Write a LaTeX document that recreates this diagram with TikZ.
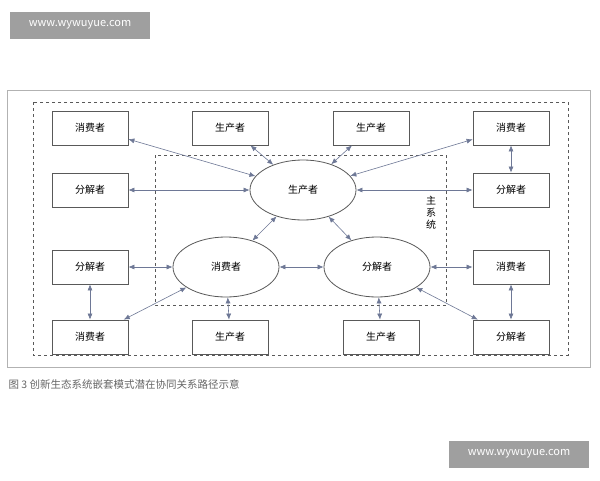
\documentclass[tikz,border=0pt]{standalone}
\usepackage{fontspec}
\setmainfont{Noto Sans CJK SC}
\usetikzlibrary{arrows.meta}
\definecolor{linec}{RGB}{110,120,150}
\tikzset{
	box/.style = {draw, thick, gray!70!black, text=black, minimum width=76pt, minimum height=34pt, font=\fontsize{10}{12}\selectfont},
	eli/.style = {draw, thick, gray!70!black, text=black, ellipse, minimum width=106pt, minimum height=60pt, font=\fontsize{10}{12}\selectfont},
	link/.style = {{Latex[length=6pt,width=5pt]}-{Latex[length=6pt,width=5pt]}, linec, semithick},
	wmark/.style = {fill=gray!75, text=white, font=\fontsize{11}{13}\selectfont, minimum width=140pt, minimum height=27pt}
}
\usetikzlibrary{shapes.geometric}
\begin{document}
\begin{tikzpicture}[x=1pt, y=-1pt]
		\useasboundingbox (0,0) rectangle (600,480);
		\fill[white] (0,0) rectangle (600,480);
		\draw[gray!60] (7,90) rectangle (590,367);
		\draw[dashed, gray!70!black] (33,102) rectangle (568,355);
		\draw[dashed, gray!70!black] (155,155) rectangle (446,305);
		
		\node[box] (c1) at (90,128) {消费者};
		\node[box] (p1) at (230,128) {生产者};
		\node[box] (p2) at (371,128) {生产者};
		\node[box] (c2) at (511,128) {消费者};
		\node[box] (d1) at (90,190) {分解者};
		\node[box] (d2) at (511,190) {分解者};
		\node[box] (d3) at (90,267) {分解者};
		\node[box] (c3) at (511,267) {消费者};
		\node[box] (c4) at (90,337) {消费者};
		\node[box] (p3) at (230,337) {生产者};
		\node[box] (p4) at (381,337) {生产者};
		\node[box] (d4) at (511,337) {分解者};
		
		\node[eli] (ep) at (303,190) {生产者};
		\node[eli] (ec) at (226,267) {消费者};
		\node[eli] (ed) at (377,267) {分解者};
		\node[align=center, font=\fontsize{10}{12}\selectfont, inner sep=0pt] (sys) at (431,213) {主\\系\\统};
		
		\draw[link] (c1) -- (ep);
		\draw[link] (p1) -- (ep);
		\draw[link] (p2) -- (ep);
		\draw[link] (c2) -- (ep);
		\draw[link] (c2) -- (d2);
		\draw[link] (d1) -- (ep);
		\draw[link] (d2) -- (ep);
		\draw[link] (ep) -- (ec);
		\draw[link] (ep) -- (ed);
		\draw[link] (ec) -- (ed);
		\draw[link] (d3) -- (ec);
		\draw[link] (d3) -- (c4);
		\draw[link] (c4) -- (ec);
		\draw[link] (p3) -- (ec);
		\draw[link] (p4) -- (ed);
		\draw[link] (ed) -- (c3);
		\draw[link] (ed) -- (d4);
		\draw[link] (c3) -- (d4);
		
		\node[anchor=west, text=gray!80!black, font=\fontsize{10.5}{12}\selectfont] (cap) at (5,384) {图 3\ 创新生态系统嵌套模式潜在协同关系路径示意};
		\node[wmark] (w1) at (80,25) {www.wywuyue.com};
		\node[wmark] (w2) at (519,454) {www.wywuyue.com};
\end{tikzpicture}
\end{document}
